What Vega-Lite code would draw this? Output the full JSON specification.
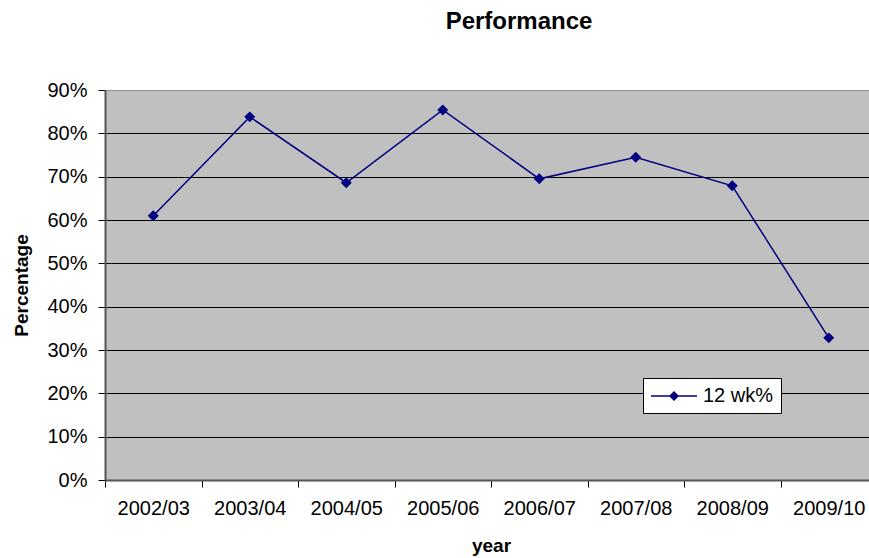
{
  "$schema": "https://vega.github.io/schema/vega-lite/v6.json",
  "autosize": "none",
  "width": 764,
  "height": 390,
  "padding": {"left": 105, "top": 90, "right": 0, "bottom": 78},
  "background": "white",
  "title": {
    "text": "Performance",
    "font": "Liberation Sans",
    "fontSize": 24,
    "fontWeight": "bold",
    "color": "black",
    "anchor": "middle",
    "baseline": "alphabetic",
    "dx": 32,
    "offset": 27
  },
  "data": {
    "values": [
      {"year": "2002/03", "pct": 0.610, "series": "12 wk%"},
      {"year": "2003/04", "pct": 0.838, "series": "12 wk%"},
      {"year": "2004/05", "pct": 0.686, "series": "12 wk%"},
      {"year": "2005/06", "pct": 0.854, "series": "12 wk%"},
      {"year": "2006/07", "pct": 0.695, "series": "12 wk%"},
      {"year": "2007/08", "pct": 0.745, "series": "12 wk%"},
      {"year": "2008/09", "pct": 0.679, "series": "12 wk%"},
      {"year": "2009/10", "pct": 0.328, "series": "12 wk%"}
    ]
  },
  "encoding": {
    "x": {
      "field": "year",
      "type": "nominal",
      "sort": null,
      "scale": {"type": "band", "paddingInner": 0, "paddingOuter": 0, "range": [0, 772]},
      "axis": {
        "title": "year",
        "labelAngle": 0,
        "tickBand": "extent",
        "labelFont": "Liberation Sans",
        "labelFontSize": 20,
        "labelColor": "black",
        "labelPadding": 11,
        "tickSize": 7,
        "tickColor": "black",
        "domainColor": "#555555",
        "domainWidth": 2,
        "titleFont": "Liberation Sans",
        "titleFontSize": 19,
        "titleFontWeight": "bold",
        "titleColor": "black",
        "titlePadding": 18
      }
    },
    "y": {
      "field": "pct",
      "type": "quantitative",
      "scale": {"domain": [0, 0.9], "nice": false},
      "axis": {
        "title": "Percentage",
        "format": ".0%",
        "values": [0, 0.1, 0.2, 0.3, 0.4, 0.5, 0.6, 0.7, 0.8, 0.9],
        "grid": true,
        "gridColor": {"condition": {"test": "datum.value >= 0.9", "value": "#909090"}, "value": "black"},
        "gridWidth": 1,
        "labelFont": "Liberation Sans",
        "labelFontSize": 20,
        "labelColor": "black",
        "labelPadding": 11,
        "tickSize": 7,
        "tickColor": "black",
        "domainColor": "#555555",
        "domainWidth": 2,
        "titleFont": "Liberation Sans",
        "titleFontSize": 19,
        "titleFontWeight": "bold",
        "titleColor": "black",
        "titlePadding": 15
      }
    }
  },
  "layer": [
    {
      "mark": {"type": "line", "color": "#000080", "strokeWidth": 1.5}
    },
    {
      "mark": {"type": "point", "shape": "diamond", "filled": true, "size": 120, "opacity": 1},
      "encoding": {
        "color": {
          "field": "series",
          "type": "nominal",
          "scale": {"domain": ["12 wk%"], "range": ["#000080"]},
          "legend": {
            "title": null,
            "orient": "none",
            "legendX": 538,
            "legendY": 288,
            "fillColor": "white",
            "strokeColor": "black",
            "padding": 7,
            "symbolType": "M-1,-0.07H3.6V0.07H-1Z M1.3,-0.5L1.8,0L1.3,0.5L0.8,0Z",
            "symbolSize": 400,
            "symbolOpacity": 1,
            "labelFont": "Liberation Sans",
            "labelFontSize": 20,
            "labelColor": "black",
            "labelOffset": 31
          }
        }
      }
    }
  ],
  "config": {
    "view": {"fill": "#C0C0C0", "stroke": "#909090", "strokeWidth": 1}
  }
}
